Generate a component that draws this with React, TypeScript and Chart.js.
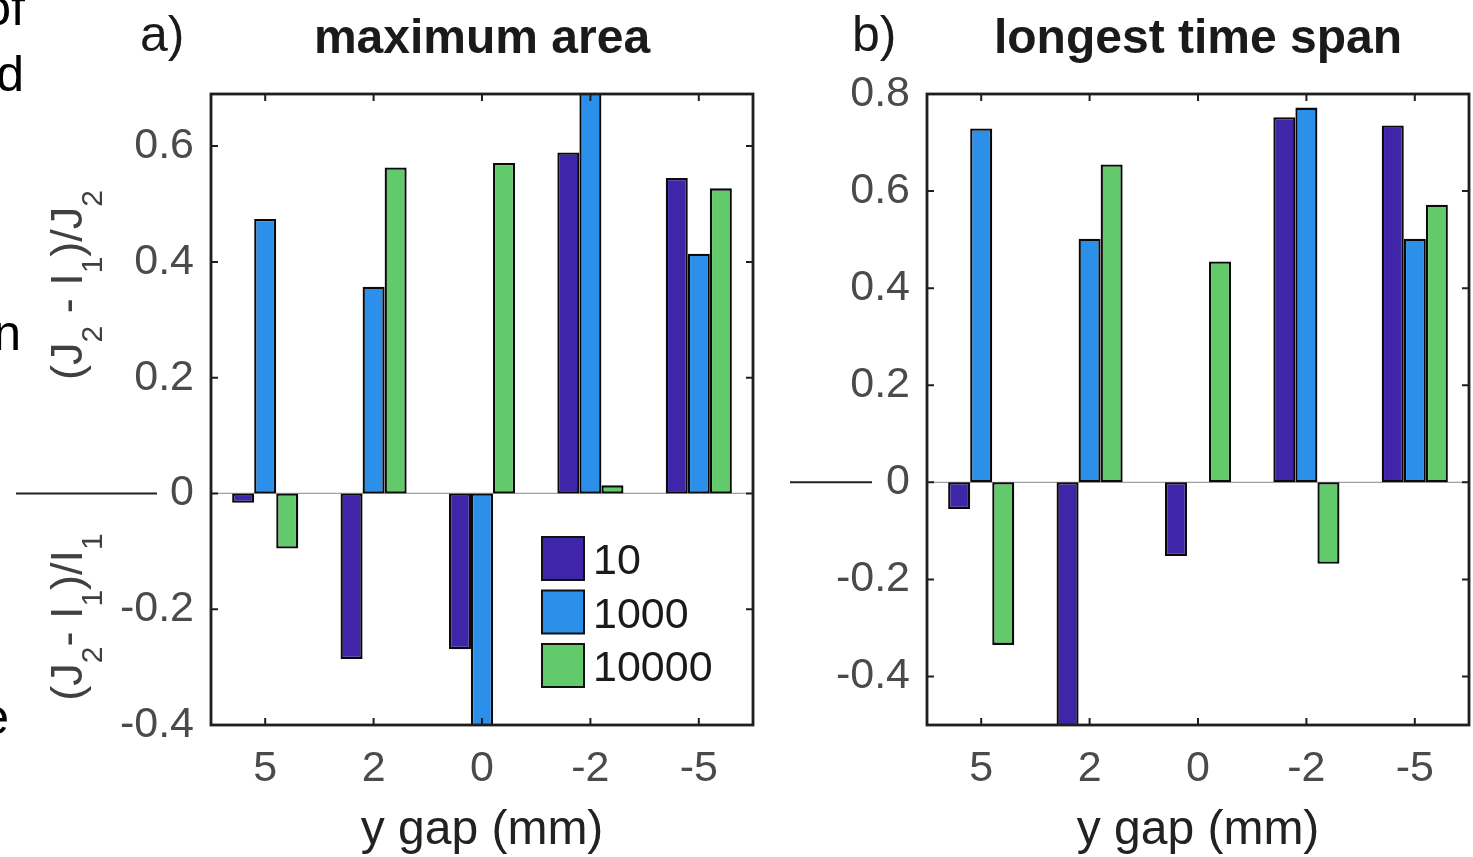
import React, { useEffect, useRef } from 'react';
import { Chart, registerables } from 'chart.js';

Chart.register(...registerables);

const FONT = "'Liberation Sans', Arial, Helvetica, sans-serif";

const categories = ['5', '2', '0', '-2', '-5'];
const seriesLabels = ['10', '1000', '10000'];
const seriesColors = ['#3F26A8', '#2C90EA', '#63CA6B'];

// panel a) maximum area
const areaN10 = [-0.016, -0.286, -0.269, 0.589, 0.545];
const areaN1000 = [0.474, 0.357, -0.45, 0.72, 0.414];
const areaN10000 = [-0.095, 0.563, 0.571, 0.014, 0.527];

// panel b) longest time span
const spanN10 = [-0.055, -0.55, -0.152, 0.752, 0.735];
const spanN1000 = [0.729, 0.502, 0, 0.772, 0.502];
const spanN10000 = [-0.335, 0.655, 0.455, -0.168, 0.572];

const yTicksArea = [-0.4, -0.2, 0, 0.2, 0.4, 0.6];
const yTicksSpan = [-0.4, -0.2, 0, 0.2, 0.4, 0.6, 0.8];

type Seg = { t: string; sub?: boolean };
const yLabelTop: Seg[] = [
  { t: '(J' }, { t: '2', sub: true }, { t: ' - I' }, { t: '1', sub: true }, { t: ')/J' }, { t: '2', sub: true },
];
const yLabelBottom: Seg[] = [
  { t: '(J' }, { t: '2', sub: true }, { t: '- I' }, { t: '1', sub: true }, { t: ')/I' }, { t: '1', sub: true },
];

function drawRotatedLabel(ctx: CanvasRenderingContext2D, segs: Seg[], bx: number, cy: number) {
  const main = `45px ${FONT}`;
  const sub = `30px ${FONT}`;
  let total = 0;
  for (const s of segs) {
    ctx.font = s.sub ? sub : main;
    total += ctx.measureText(s.t).width;
  }
  ctx.save();
  ctx.translate(bx, cy);
  ctx.rotate(-Math.PI / 2);
  ctx.fillStyle = '#404040';
  ctx.textAlign = 'left';
  ctx.textBaseline = 'alphabetic';
  let x = -total / 2;
  for (const s of segs) {
    ctx.font = s.sub ? sub : main;
    ctx.fillText(s.t, x, s.sub ? 20 : 0);
    x += ctx.measureText(s.t).width;
  }
  ctx.restore();
}

type DecorOpts = {
  title: string;
  letter: string;
  letterX: number;
  lineFrom: number;
  lineTo: number;
  legend: boolean;
  extras: boolean;
};

function makeDecor(o: DecorOpts) {
  return {
    id: 'decor',
    beforeDatasetsDraw(chart: any) {
      const { ctx, chartArea } = chart;
      const y0 = chart.scales.y.getPixelForValue(0);
      ctx.save();
      ctx.strokeStyle = '#a0a0a0';
      ctx.lineWidth = 1.2;
      ctx.beginPath();
      ctx.moveTo(chartArea.left, y0);
      ctx.lineTo(chartArea.right, y0);
      ctx.stroke();
      ctx.restore();
    },
    afterDraw(chart: any) {
      const { ctx, chartArea } = chart;
      const { left, right, top, bottom } = chartArea;
      const xs = chart.scales.x;
      const ys = chart.scales.y;
      ctx.save();
      // frame
      ctx.strokeStyle = '#1e1e1e';
      ctx.lineWidth = 2.8;
      ctx.strokeRect(left, top, right - left, bottom - top);
      // inward ticks
      ctx.lineWidth = 2;
      const tl = 7;
      ctx.beginPath();
      for (const t of ys.ticks) {
        const py = ys.getPixelForValue(t.value);
        ctx.moveTo(left, py);
        ctx.lineTo(left + tl, py);
        ctx.moveTo(right, py);
        ctx.lineTo(right - tl, py);
      }
      for (let i = 0; i < categories.length; i++) {
        const px = xs.getPixelForValue(i);
        ctx.moveTo(px, bottom);
        ctx.lineTo(px, bottom - tl);
        ctx.moveTo(px, top);
        ctx.lineTo(px, top + tl);
      }
      ctx.stroke();

      // outside zero line
      const y0 = ys.getPixelForValue(0);
      ctx.strokeStyle = '#222';
      ctx.lineWidth = 2;
      ctx.beginPath();
      ctx.moveTo(o.lineFrom, y0);
      ctx.lineTo(o.lineTo, y0);
      ctx.stroke();

      // title
      ctx.fillStyle = '#1a1a1a';
      ctx.font = `bold 48px ${FONT}`;
      ctx.textAlign = 'center';
      ctx.textBaseline = 'alphabetic';
      ctx.fillText(o.title, (left + right) / 2, 53);
      // panel letter
      ctx.font = `50px ${FONT}`;
      ctx.textAlign = 'left';
      ctx.fillText(o.letter, o.letterX, 51);

      if (o.legend) {
        const ds = chart.data.datasets;
        for (let i = 0; i < ds.length; i++) {
          const sx = left + 331;
          const sy = top + 443 + i * 53.5;
          ctx.fillStyle = ds[i].backgroundColor;
          ctx.fillRect(sx, sy, 42, 43);
          ctx.strokeStyle = '#111';
          ctx.lineWidth = 2;
          ctx.strokeRect(sx, sy, 42, 43);
          ctx.fillStyle = '#1a1a1a';
          ctx.font = `43px ${FONT}`;
          ctx.textBaseline = 'alphabetic';
          ctx.fillText(ds[i].label, sx + 51, sy + 37);
        }
      }

      if (o.extras) {
        drawRotatedLabel(ctx, yLabelTop, 82, 285);
        drawRotatedLabel(ctx, yLabelBottom, 82, 617);
        ctx.fillStyle = '#000';
        ctx.font = `50px ${FONT}`;
        ctx.textAlign = 'right';
        ctx.textBaseline = 'alphabetic';
        ctx.fillText('of', 25, 25);
        ctx.fillText('d', 24, 91);
        ctx.fillText('n', 21, 350);
        ctx.fillText('e', 9, 734);
      }
      ctx.restore();
    },
  };
}

function buildConfig(series: number[][], yMin: number, yMax: number, yTicks: number[], yWidth: number, rightPad: number, decor: any) {
  return {
    type: 'bar' as const,
    data: {
      labels: categories,
      datasets: series.map((d, i) => ({
        label: seriesLabels[i],
        data: d,
        backgroundColor: seriesColors[i],
        borderColor: '#0a0a0a',
        borderWidth: 2.3,
        borderSkipped: false,
        categoryPercentage: 0.61,
        barPercentage: 1,
      })),
    },
    options: {
      responsive: false,
      animation: false,
      devicePixelRatio: 1,
      layout: { padding: { left: 0, right: rightPad, top: 94, bottom: 0 } },
      plugins: { legend: { display: false }, tooltip: { enabled: false }, title: { display: false } },
      scales: {
        x: {
          type: 'category',
          grid: { display: false, drawTicks: false },
          border: { display: false },
          ticks: { font: { family: FONT, size: 43 }, color: '#4a4a4a', padding: 18, maxRotation: 0, autoSkip: false },
          title: {
            display: true,
            text: 'y gap (mm)',
            font: { family: FONT, size: 48, lineHeight: 1.1 },
            color: '#222',
            padding: { top: 0, bottom: 0 },
          },
          afterFit: (s: any) => { s.height = 132; },
        },
        y: {
          type: 'linear',
          min: yMin,
          max: yMax,
          grid: { display: false, drawTicks: false },
          border: { display: false },
          ticks: {
            font: { family: FONT, size: 43 },
            color: '#4a4a4a',
            padding: 17,
            callback: (v: any) => `${v}`,
          },
          afterBuildTicks: (s: any) => { s.ticks = yTicks.map((v) => ({ value: v })); },
          afterFit: (s: any) => { s.width = yWidth; },
        },
      },
    },
    plugins: [decor],
  };
}

export default function App() {
  const refA = useRef<HTMLCanvasElement>(null);
  const refB = useRef<HTMLCanvasElement>(null);

  useEffect(() => {
    const a = new Chart(
      refA.current as HTMLCanvasElement,
      buildConfig(
        [areaN10, areaN1000, areaN10000], -0.4, 0.69, yTicksArea, 211, 27,
        makeDecor({ title: 'maximum area', letter: 'a)', letterX: 140, lineFrom: 16, lineTo: 157, legend: true, extras: true })
      ) as any
    );
    const b = new Chart(
      refB.current as HTMLCanvasElement,
      buildConfig(
        [spanN10, spanN1000, spanN10000], -0.5, 0.8, yTicksSpan, 147, 4,
        makeDecor({ title: 'longest time span', letter: 'b)', letterX: 852 - 780, lineFrom: 10, lineTo: 92, legend: false, extras: false })
      ) as any
    );
    return () => { a.destroy(); b.destroy(); };
  }, []);

  return (
    <div style={{ position: 'fixed', left: 0, top: 0, width: 1473, height: 857, background: '#fff', overflow: 'hidden' }}>
      <canvas ref={refA} width={780} height={857} style={{ position: 'absolute', left: 0, top: 0 }} />
      <canvas ref={refB} width={693} height={857} style={{ position: 'absolute', left: 780, top: 0 }} />
    </div>
  );
}
